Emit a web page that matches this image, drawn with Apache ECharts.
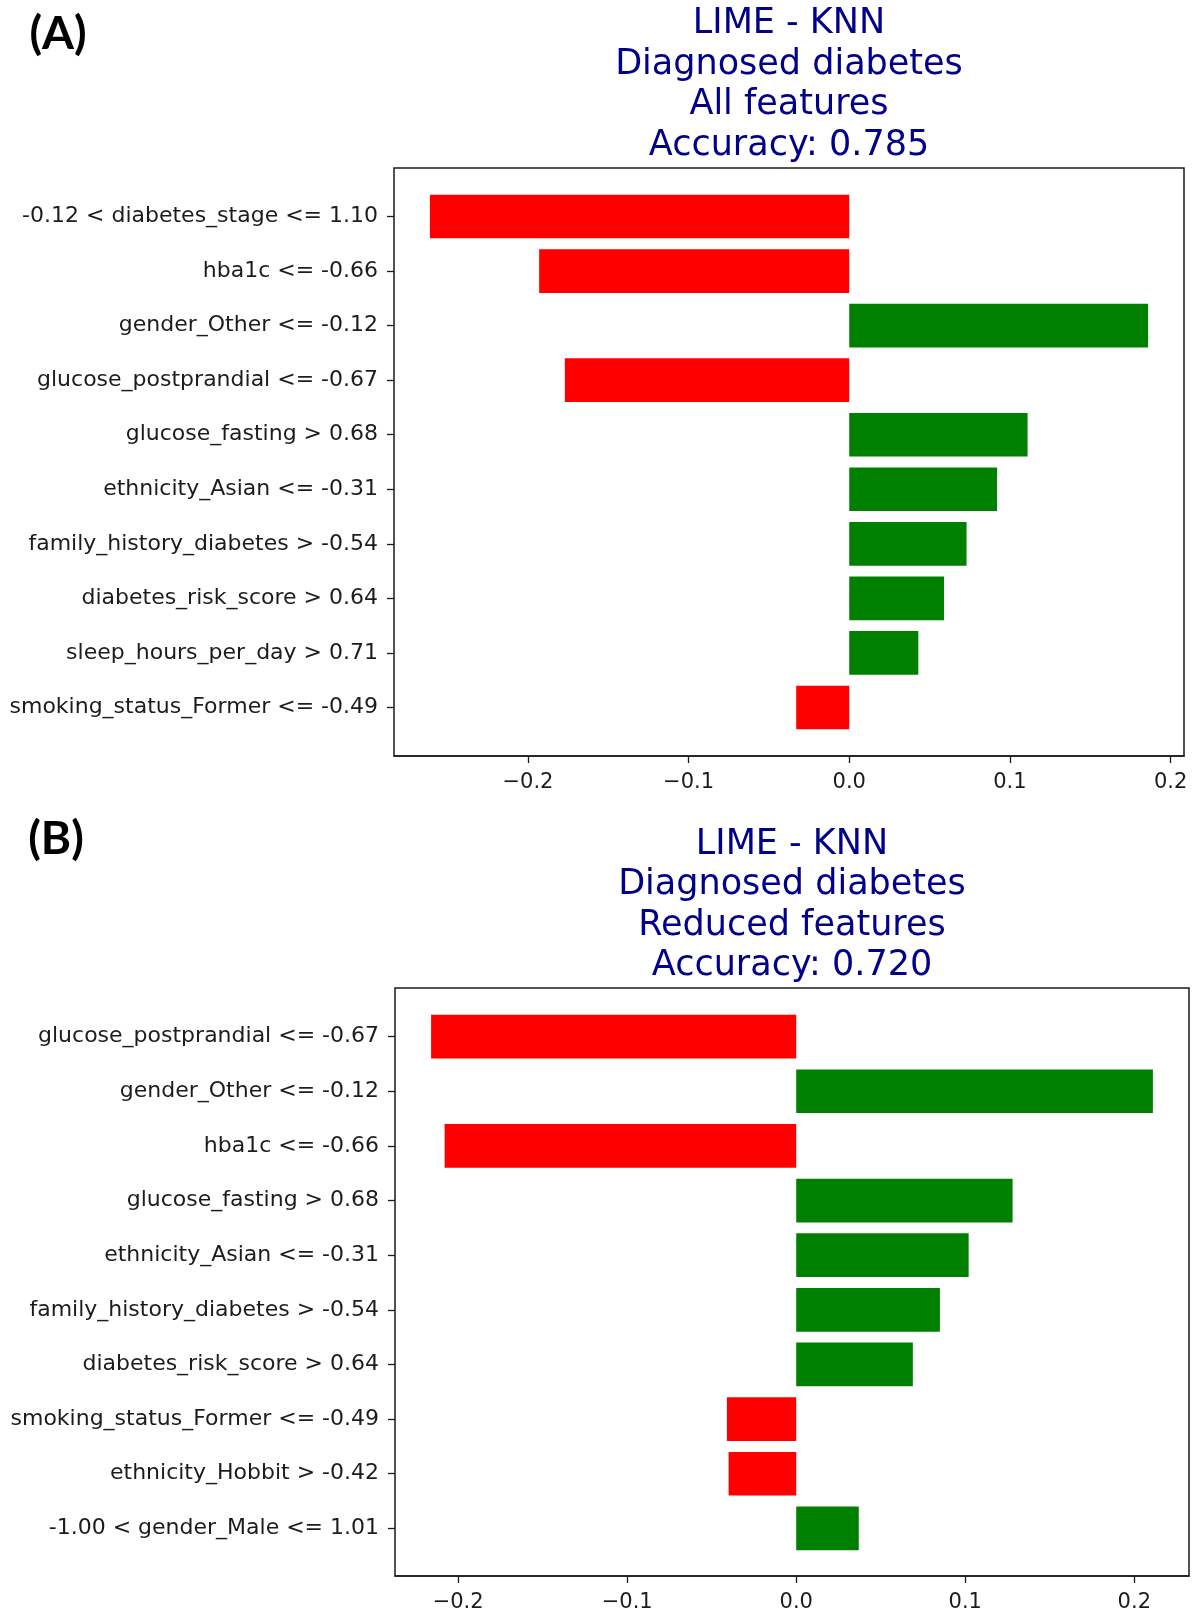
<!DOCTYPE html>
<html>
<head>
<meta charset="utf-8">
<script src="https://cdn.jsdelivr.net/npm/echarts@6/dist/echarts.min.js"></script>
<style>
  html, body { margin: 0; padding: 0; background: #fff; }
  #chart { width: 1195px; height: 1613px; }
</style>
</head>
<body>
<div id="chart"></div>
<script>
// ---------------- data ----------------
const categoriesA = [
  "-0.12 < diabetes_stage <= 1.10",
  "hba1c <= -0.66",
  "gender_Other <= -0.12",
  "glucose_postprandial <= -0.67",
  "glucose_fasting > 0.68",
  "ethnicity_Asian <= -0.31",
  "family_history_diabetes > -0.54",
  "diabetes_risk_score > 0.64",
  "sleep_hours_per_day > 0.71",
  "smoking_status_Former <= -0.49"
];
const valuesA = [-0.261, -0.193, 0.186, -0.177, 0.111, 0.092, 0.073, 0.059, 0.043, -0.033];

const categoriesB = [
  "glucose_postprandial <= -0.67",
  "gender_Other <= -0.12",
  "hba1c <= -0.66",
  "glucose_fasting > 0.68",
  "ethnicity_Asian <= -0.31",
  "family_history_diabetes > -0.54",
  "diabetes_risk_score > 0.64",
  "smoking_status_Former <= -0.49",
  "ethnicity_Hobbit > -0.42",
  "-1.00 < gender_Male <= 1.01"
];
const valuesB = [-0.216, 0.211, -0.208, 0.128, 0.102, 0.085, 0.069, -0.041, -0.040, 0.037];

const xTickValues = [-0.2, -0.1, 0.0, 0.1, 0.2];

const titleA = ["LIME - KNN", "Diagnosed diabetes", "All features", "Accuracy: 0.785"];
const titleB = ["LIME - KNN", "Diagnosed diabetes", "Reduced features", "Accuracy: 0.720"];
const panelLabels = ["(A)", "(B)"];

// ---------------- helpers ----------------
function limits(vals) {
  const lo = Math.min(0, ...vals), hi = Math.max(0, ...vals);
  const m = (hi - lo) * 0.05;
  return [lo - m, hi + m];
}
const TEXT = '#1c1c1c';
const FONT = "'DejaVu Sans', sans-serif";
const fmt = v => (v < -1e-9 ? '\u2212' : '') + Math.abs(v).toFixed(1);

// frame geometry
const frames = [
  { left: 394, top: 168, width: 790, height: 588 },
  { left: 395, top: 988, width: 794, height: 589 }
];
const N = 10;
const span = N - 1 + 0.8 + 2 * 0.05 * (N - 1 + 0.8); // matplotlib margins
const pad = (span - N) / 2;

const grids = [], xAxes = [], yAxes = [], series = [];
[[categoriesA, valuesA], [categoriesB, valuesB]].forEach(([cats, vals], p) => {
  const f = frames[p];
  const [lo, hi] = limits(vals);
  const unit = f.height / span;
  const gFrame = grids.length;
  grids.push({ left: f.left, top: f.top, width: f.width, height: f.height,
    show: true, borderColor: '#1a1a1a', borderWidth: 1.5, backgroundColor: 'transparent' });
  const gBars = grids.length;
  grids.push({ left: f.left, top: f.top + pad * unit, width: f.width, height: N * unit });

  xAxes.push({
    gridIndex: gFrame, type: 'value', min: lo, max: hi, position: 'bottom',
    axisLine: { show: true, onZero: false, lineStyle: { color: '#1a1a1a', width: 1.5 } },
    axisTick: { show: true, customValues: xTickValues, length: 7, lineStyle: { color: '#1a1a1a', width: 1.3 } },
    axisLabel: { show: true, customValues: xTickValues, formatter: fmt, margin: 16,
      fontSize: 21, fontFamily: FONT, color: TEXT },
    splitLine: { show: false }
  });
  yAxes.push({ gridIndex: gFrame, type: 'value', min: 0, max: 1, show: false });

  xAxes.push({ gridIndex: gBars, type: 'value', min: lo, max: hi, show: false,
    axisLine: { onZero: false }, splitLine: { show: false } });
  yAxes.push({
    gridIndex: gBars, type: 'category', data: cats, inverse: true, position: 'left',
    axisLine: { show: false, onZero: false },
    axisTick: { show: true, alignWithLabel: true, length: 7, lineStyle: { color: '#1a1a1a', width: 1.3 } },
    axisLabel: { margin: 16, fontSize: 22, fontFamily: FONT, color: TEXT, padding: [7, 0, 0, 0] },
    splitLine: { show: false }
  });

  series.push({
    type: 'bar', xAxisIndex: xAxes.length - 1, yAxisIndex: yAxes.length - 1,
    barWidth: '80%', silent: true,
    data: vals.map(v => ({ value: v, itemStyle: { color: v < 0 ? '#ff0000' : '#008000' } }))
  });
});

const titleStyle = lines => ({
  text: lines.join('\n'), align: 'center', verticalAlign: 'middle',
  font: "35px 'DejaVu Sans', sans-serif", lineHeight: 40.4, fill: '#00008b'
});

const option = {
  animation: false,
  backgroundColor: '#ffffff',
  grid: grids,
  xAxis: xAxes,
  yAxis: yAxes,
  series: series,
  graphic: [
    { type: 'text', x: frames[0].left + frames[0].width / 2, y: 85, style: titleStyle(titleA) },
    { type: 'text', x: frames[1].left + frames[1].width / 2, y: 905.5, style: titleStyle(titleB) },
    { type: 'text', x: 58, y: 34, style: { text: panelLabels[0], align: 'center', verticalAlign: 'middle',
        font: "bold 46px Lato, 'Liberation Sans', sans-serif", fill: '#000' } },
    { type: 'text', x: 56, y: 839, style: { text: panelLabels[1], align: 'center', verticalAlign: 'middle',
        font: "bold 46px Lato, 'Liberation Sans', sans-serif", fill: '#000' } }
  ]
};

const chart = echarts.init(document.getElementById('chart'), null, { renderer: 'canvas' });
chart.setOption(option);
</script>
</body>
</html>
